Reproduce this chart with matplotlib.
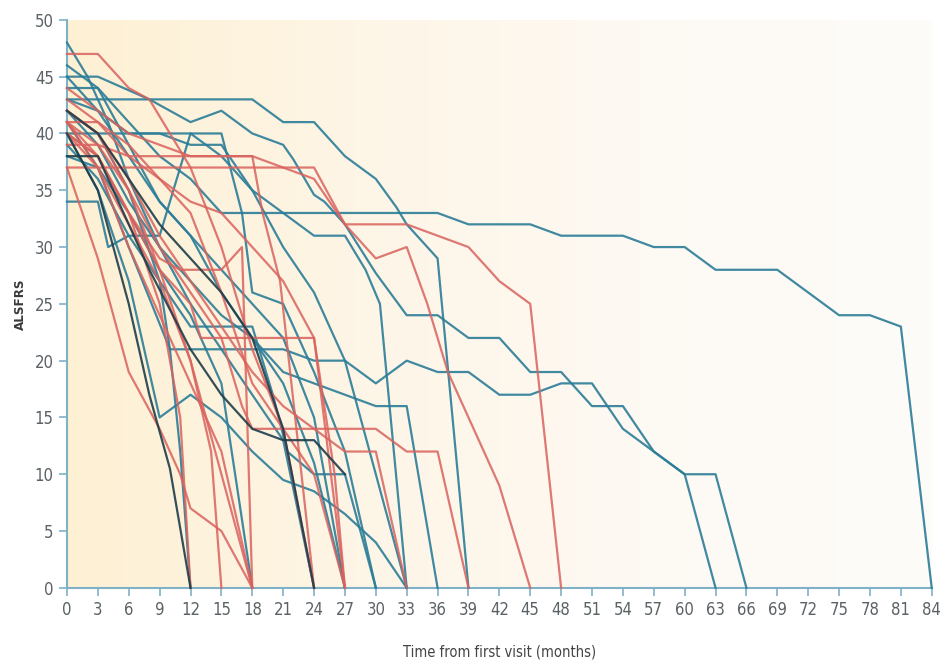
import numpy as np
import matplotlib
matplotlib.use("Agg")
import matplotlib.pyplot as plt
from matplotlib.colors import LinearSegmentedColormap

plt.rcParams['font.family'] = ['DejaVu Sans']
plt.rcParams['font.stretch'] = 'condensed'

# ALSFRS trajectories: months from first visit, score
teal_months = [
    [0, 3, 6, 9, 12, 15, 18, 21, 24, 27, 30, 33, 36, 39, 42, 45, 48, 51, 54, 57, 60, 63, 66, 69, 72, 75, 78, 81, 84],
    [0, 3, 6, 9, 12, 15, 18, 21, 24, 27, 30, 32, 33, 36, 39],
    [0, 3, 8, 12, 15, 18, 21, 22, 24, 25, 27, 30, 33, 36, 39, 42, 45, 48, 51, 54, 57, 60, 63, 66],
    [0, 3, 6, 10, 12, 15, 18, 21, 24, 27, 30, 33, 36, 39, 42, 45, 48, 51, 54, 57, 60, 63],
    [0, 3, 4, 6, 9, 12, 15, 17, 18, 21, 24, 27, 30],
    [0, 3, 6, 9, 12, 15, 18, 21, 24, 27, 30, 33],
    [0, 3, 6, 9, 12, 15, 18, 21, 24, 27, 30, 33, 36],
    [0, 3, 6, 9, 12, 18, 20, 21.4, 24, 27, 30],
    [0, 3, 6, 9, 12, 15, 18, 21, 24, 27, 29, 30.4, 33],
    [0, 3, 6, 9, 12, 15, 18, 21, 24, 27],
    [0, 2, 4, 6, 9, 12, 15, 18, 21, 24],
    [0, 3, 6, 9, 12, 15, 18],
    [0, 3, 6, 9, 10, 11, 12],
    [0, 3, 6, 9, 12, 15, 18, 21, 24, 27, 30, 33],
    [0, 3, 6, 9, 12, 15, 18, 21, 24, 27],
]
teal_values = [
    [46, 44, 41, 38, 36, 33, 33, 33, 33, 33, 33, 33, 33, 32, 32, 32, 31, 31, 31, 30, 30, 28, 28, 28, 26, 24, 24, 23, 0],
    [43, 43, 43, 43, 43, 43, 43, 41, 41, 38, 36, 33.5, 32, 29, 0],
    [45, 45, 43, 41, 42, 40, 39, 37.7, 34.6, 34, 32, 27.7, 24, 24, 22, 22, 19, 19, 16, 16, 12, 10, 10, 0],
    [41, 37, 30, 21, 21, 21, 21, 21, 20, 20, 18, 20, 19, 19, 17, 17, 18, 18, 14, 12, 10, 0],
    [34, 34, 30, 31, 31, 40, 40, 33, 26, 25, 19, 12, 0],
    [40, 35, 27, 15, 17, 15, 12, 9.5, 8.5, 6.5, 4, 0],
    [42, 39, 34, 30, 27, 24, 22, 19, 18, 17, 16, 16, 0],
    [39, 36, 31, 27, 23, 23, 17, 12, 10, 10, 0],
    [43, 42, 40, 40, 40, 38, 35, 33, 31, 31, 28, 25, 0],
    [45, 42, 38, 34, 31, 28, 25, 22, 15, 0],
    [48, 45, 41, 36, 30, 25, 21, 17, 13, 0],
    [38, 37, 33, 28, 24, 18, 0],
    [42, 40, 35, 27, 21, 12, 0],
    [40, 40, 40, 40, 39, 39, 35, 30, 26, 20, 10, 0],
    [44, 44, 39, 34, 31, 26, 22, 18, 11, 0],
]

red_months = [
    [0, 3, 6, 9, 12, 15, 18, 21, 24, 27, 30, 33, 35, 37, 42, 45],
    [0, 3, 6, 9, 12, 15, 18, 21, 24, 27, 30, 33, 36, 39, 42, 45, 48],
    [0, 3, 6, 9, 12, 13, 18, 21, 24, 27],
    [0, 3, 6, 9, 12, 15, 17, 18, 21, 24, 27, 30, 33, 36, 39],
    [0, 3, 6, 9, 12, 15, 18, 21, 24, 27, 30, 33],
    [0, 3, 6, 8, 10, 12, 15, 18, 21, 24],
    [0, 3, 6, 9, 12, 15, 18, 19, 20.7, 24],
    [0, 3, 6, 9, 11, 15, 17, 18],
    [0, 3, 6, 9, 12, 14, 15],
    [0, 3, 6, 9, 11, 12, 15, 18],
    [0, 3, 6, 9, 12, 15, 18],
    [0, 3, 6, 9, 12, 15, 18],
    [0, 3, 6, 9, 11, 12],
    [0, 3, 6, 9, 12, 15, 18, 21, 24, 27],
    [0, 3, 6, 9, 12, 15, 18, 21, 24, 26, 27],
]
red_values = [
    [37, 37, 37, 37, 37, 37, 37, 37, 37, 32, 29, 30, 25, 19, 9, 0],
    [44, 42, 40, 39, 38, 38, 38, 37, 36, 32, 32, 32, 31, 30, 27, 25, 0],
    [40, 38, 33, 28, 25, 22, 22, 22, 22, 0],
    [41, 39, 35, 30, 26, 22, 16, 14, 14, 14, 14, 14, 12, 12, 0],
    [42, 40, 36, 31, 27, 23, 19, 16, 14, 12, 12, 0],
    [47, 47, 44, 43, 40, 37, 30, 21, 14, 0],
    [39, 39, 38, 38, 38, 38, 38, 33, 27, 0],
    [41, 38, 33, 29, 28, 28, 30, 0],
    [40, 37, 32, 27, 20, 12, 0],
    [37, 29, 19, 14, 10, 7, 5, 0],
    [42, 40, 35, 28, 20, 10, 0],
    [41, 37, 30, 24, 18, 12, 0],
    [40, 38, 33, 25, 15, 0],
    [43, 41, 38, 36, 33, 26, 18, 14, 10, 0],
    [41, 41, 39, 36, 34, 33, 30, 27, 22, 10, 0],
]

dark_months = [
    [0, 3, 6, 8, 10, 12],
    [0, 3, 6, 9, 12, 15, 18, 21, 24],
    [0, 3, 5, 8, 12, 15, 18, 21, 24, 27],
]
dark_values = [
    [40, 35, 25, 17, 10.5, 0],
    [42, 40, 36, 32, 29, 26, 22, 14, 0],
    [38, 38, 34, 28, 21, 17, 14, 13, 13, 10],
]

xticks = list(range(0, 85, 3))
yticks = list(range(0, 51, 5))

teal = '#2b7d98'
red = '#d9625e'
dark = '#1f3d4a'
axis_col = '#7fb2c6'
text_col = '#5a6266'

fig = plt.figure(figsize=(9.42, 6.62), dpi=100)
ax = fig.add_axes([0.0711, 0.112, 0.918, 0.858])

# warm background wash, yellow on the left fading to white
grad = np.linspace(0, 1, 256).reshape(1, -1)
cmap = LinearSegmentedColormap.from_list('wash', ['#fdf0d3', '#fdf5e6', '#fdf9f3', '#fefcf9'])
ax.imshow(grad, extent=[0, 84, 0, 50], aspect='auto', cmap=cmap, zorder=0)

for m, v in zip(teal_months, teal_values):
    ax.plot(m, v, color=teal, lw=1.6, alpha=0.9, clip_on=False, zorder=3)
for m, v in zip(red_months, red_values):
    ax.plot(m, v, color=red, lw=1.6, alpha=0.85, clip_on=False, zorder=3)
for m, v in zip(dark_months, dark_values):
    ax.plot(m, v, color=dark, lw=1.6, alpha=0.9, clip_on=False, zorder=4)

ax.set_xlim(0, 84)
ax.set_ylim(0, 50)
ax.set_xticks(xticks)
ax.set_yticks(yticks)
ax.tick_params(colors=axis_col, labelcolor=text_col, labelsize=12, length=6, width=1.2)
for s in ['top', 'right']:
    ax.spines[s].set_visible(False)
for s in ['left', 'bottom']:
    ax.spines[s].set_color(axis_col)
    ax.spines[s].set_linewidth(1.5)

ax.set_ylabel('ALSFRS', fontsize=9.5, fontweight='bold', color='#3a3a3a', labelpad=6)
ax.set_xlabel('Time from first visit (months)', fontsize=10.5, color='#444444', labelpad=18)

fig.savefig('out.png', dpi=100, facecolor='white')
